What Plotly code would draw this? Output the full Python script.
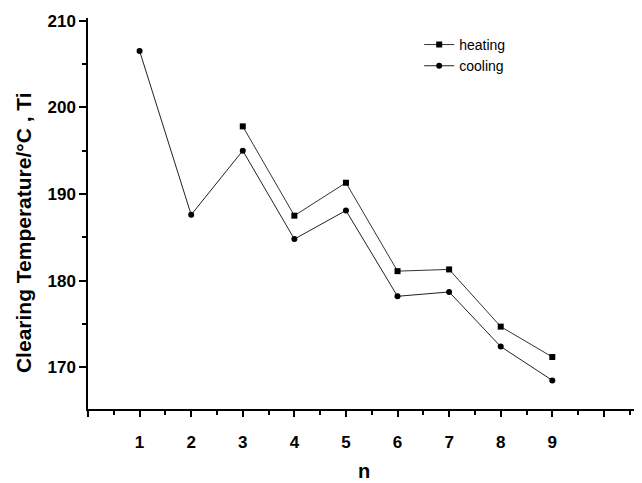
import plotly.graph_objects as go

n_cool = [1, 2, 3, 4, 5, 6, 7, 8, 9]
cooling = [206.5, 187.6, 195.0, 184.8, 188.1, 178.2, 178.7, 172.4, 168.5]
n_heat = [3, 4, 5, 6, 7, 8, 9]
heating = [197.8, 187.5, 191.3, 181.1, 181.3, 174.7, 171.2]

xtick_vals = [0, 1, 2, 3, 4, 5, 6, 7, 8, 9, 10]
xtick_text = ["", "1", "2", "3", "4", "5", "6", "7", "8", "9", ""]
ytick_vals = [170, 180, 190, 200, 210]
y_title = "<b>Clearing Temperature/°C , Ti</b>"
x_title = "<b>n</b>"

fig = go.Figure()
fig.add_trace(go.Scatter(x=n_heat, y=heating, mode="lines+markers", name="heating",
                         line=dict(color="#333333", width=1),
                         marker=dict(symbol="square", size=6, color="black")))
fig.add_trace(go.Scatter(x=n_cool, y=cooling, mode="lines+markers", name="cooling",
                         line=dict(color="#222222", width=1),
                         marker=dict(symbol="circle", size=6, color="black")))

font_b = "Liberation Sans"
fig.update_layout(
    width=634, height=475,
    margin=dict(l=80, r=2, t=10, b=74),
    paper_bgcolor="white", plot_bgcolor="white",
    font=dict(family=font_b, color="black"),
    showlegend=True,
    legend=dict(x=0.6, y=0.972, xanchor="left", yanchor="top",
                bgcolor="rgba(0,0,0,0)", font=dict(size=14, family=font_b),
                itemwidth=30, tracegroupgap=0),
    xaxis=dict(range=[0, 10.7], tickmode="array", tickvals=xtick_vals, ticktext=xtick_text,
               ticks="outside", ticklen=6, tickwidth=1.5, tickcolor="black", automargin=False,
               showline=True, linecolor="black", linewidth=1.5, showgrid=False, zeroline=False,
               tickfont=dict(size=17, family=font_b, weight="bold"), ticklabelstandoff=11,
               minor=dict(tick0=0, dtick=0.5, ticks="outside", ticklen=4, tickcolor="black", showgrid=False)),
    yaxis=dict(range=[165.2, 210.3], tickmode="array", tickvals=ytick_vals,
               ticks="outside", ticklen=7, tickwidth=1.5, tickcolor="black", automargin=False,
               showline=True, linecolor="black", linewidth=1.5, showgrid=False, zeroline=False,
               tickfont=dict(size=17, family=font_b, weight="bold"),
               minor=dict(tick0=165, dtick=5, ticks="outside", ticklen=4, tickcolor="black", showgrid=False)),
    annotations=[
        dict(text=y_title, xref="paper", yref="paper", x=-65 / 552, y=0.45,
             xanchor="center", yanchor="middle", textangle=-90, showarrow=False,
             font=dict(size=21, family=font_b, color="black")),
        dict(text=x_title, xref="paper", yref="paper", x=0.5, y=-49 / 391,
             xanchor="center", yanchor="top", showarrow=False,
             font=dict(size=20, family=font_b, color="black")),
    ],
)
fig.write_html("out.html")
